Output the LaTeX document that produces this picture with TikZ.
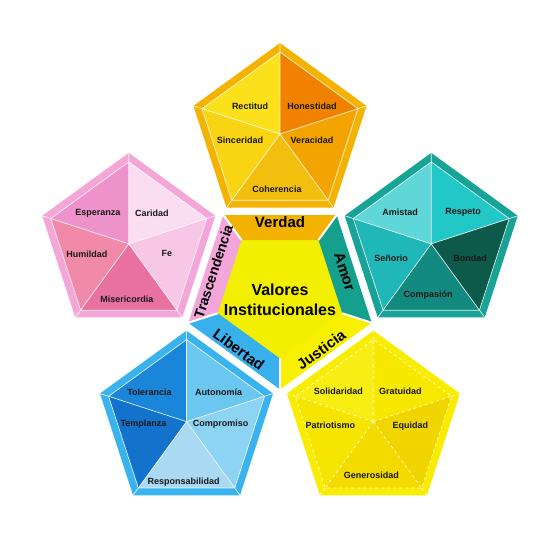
\documentclass[tikz,border=0pt]{standalone}
\usepackage{fontspec}
\setmainfont{Liberation Sans}
\usetikzlibrary{calc,positioning}

\definecolor{verdadfr}{HTML}{F3B300}
\definecolor{rectitudc}{HTML}{FBE01C}
\definecolor{honestc}{HTML}{F08200}
\definecolor{veracc}{HTML}{F4A400}
\definecolor{coherc}{HTML}{F3BF0E}
\definecolor{sincerc}{HTML}{F8D412}
\definecolor{amorfr}{HTML}{17A396}
\definecolor{amistadc}{HTML}{5FD6D8}
\definecolor{respetoc}{HTML}{22C7C8}
\definecolor{bondadc}{HTML}{0D5A4A}
\definecolor{compasc}{HTML}{138A7F}
\definecolor{senorc}{HTML}{20B7B8}
\definecolor{trascfr}{HTML}{F4A6D6}
\definecolor{esperc}{HTML}{EE92CC}
\definecolor{caridc}{HTML}{FBDDF1}
\definecolor{fec}{HTML}{F8C7E6}
\definecolor{misec}{HTML}{E8719F}
\definecolor{humilc}{HTML}{F08AA8}
\definecolor{liberfr}{HTML}{39B3EE}
\definecolor{tolerc}{HTML}{1A86DA}
\definecolor{autonc}{HTML}{6CC7F0}
\definecolor{comproc}{HTML}{8DD3F4}
\definecolor{respc}{HTML}{A9D9F3}
\definecolor{templc}{HTML}{1372CC}
\definecolor{justfr}{HTML}{F8EC00}
\definecolor{solidc}{HTML}{F8EE14}
\definecolor{gratc}{HTML}{F8E800}
\definecolor{equidc}{HTML}{F1D500}
\definecolor{generc}{HTML}{F3DB00}
\definecolor{patric}{HTML}{F6E500}
\definecolor{centrec}{HTML}{F3EF00}
\definecolor{verdadbd}{HTML}{F4B200}
\definecolor{amorbd}{HTML}{15A08E}
\definecolor{justbd}{HTML}{F7F000}
\definecolor{liberbd}{HTML}{38B0EC}
\definecolor{trascbd}{HTML}{F2A6DA}

% value pentagon: #1 centre, #2 frame, then upper left, lower left,
% bottom, lower right, upper right
\newcommand\valpent[7]{%
  \fill[#2] ($(#1)+(90:91)$) -- ($(#1)+(162:91)$) -- ($(#1)+(234:91)$)
    -- ($(#1)+(306:91)$) -- ($(#1)+(18:91)$) -- cycle;
  \foreach \a/\c in {90/#3,162/#4,234/#5,306/#6,18/#7}
    \fill[\c] (#1) -- ($(#1)+(\a:82)$) -- ($(#1)+(\a+72:82)$) -- cycle;
  \foreach \a in {18,90,...,306}
    \draw[rim] (#1) -- ($(#1)+(\a:82)$) -- ($(#1)+(\a+72:82)$)
      ($(#1)+(\a:82)$) -- ($(#1)+(\a:91)$);
}

\begin{document}
\begin{tikzpicture}[
    x=1pt, y=1pt,
    value/.style={inner sep=0pt, text=black!90,
                  font=\bfseries\fontsize{9}{11}\selectfont},
    bandtext/.style={inner sep=0pt, font=\bfseries\fontsize{15}{18}\selectfont},
    centre/.style={inner sep=0pt, align=center,
                   font=\bfseries\fontsize{16}{19.5}\selectfont},
    rim/.style={white, opacity=.85, line width=.7pt},
    gap/.style={white, line width=2pt}
]
\fill[white] (0,0) rectangle (540,550);
\useasboundingbox (0,0) rectangle (540,550);

\coordinate (C) at (280,257);
\coordinate (verdad) at ($(C)+(90:159)$);
\coordinate (amor) at ($(C)+(18:159)$);
\coordinate (justicia) at ($(C)+(-54:159)$);
\coordinate (libertad) at ($(C)+(-126:159)$);
\coordinate (trasc) at ($(C)+(162:159)$);

\valpent{verdad}{verdadfr}{rectitudc}{sincerc}{coherc}{veracc}{honestc}
\valpent{amor}{amorfr}{amistadc}{senorc}{compasc}{bondadc}{respetoc}
\valpent{trasc}{trascfr}{esperc}{humilc}{misec}{fec}{caridc}
\valpent{libertad}{liberfr}{tolerc}{templc}{respc}{comproc}{autonc}
\begin{scope}[rim/.append style={dashed}]
\valpent{justicia}{justfr}{solidc}{patric}{generc}{equidc}{gratc}
\end{scope}

\fill[centrec] ($(C)+(54:66)$) -- ($(C)+(126:66)$) -- ($(C)+(198:66)$)
  -- ($(C)+(270:66)$) -- ($(C)+(342:66)$) -- cycle;
\foreach \a/\c in {54/verdadbd,126/trascbd,198/liberbd,270/justbd,342/amorbd}
  \fill[\c] ($(C)+(\a:96.4)$) -- ($(C)+(\a+72:96.4)$)
    -- ($(C)+(\a+72:65.5)$) -- ($(C)+(\a:65.5)$) -- cycle;
\foreach \a in {54,126,...,342}
  \draw[gap] ($(C)+(\a:65.5)$) -- ($(C)+(\a:97.5)$);

\node[centre] (valores) at (280,250) {Valores\\Institucionales};
\node[bandtext] (verdadlbl) at ($(C)+(90:71)$) {Verdad};
\node[bandtext, rotate=-72] (amorlbl) at ($(C)+(18:68)$) {Amor};
\node[bandtext, rotate=36] (justicialbl) at ($(C)+(-54:70)$) {Justicia};
\node[bandtext, rotate=-36] (libertadlbl) at ($(C)+(-126:70)$) {Libertad};
\node[bandtext, rotate=72, font=\bfseries\fontsize{14}{17}\selectfont]
  (trasclbl) at ($(C)+(162:70)$) {Trascendencia};

\node[value] (rectitud) at ($(verdad)+(-30,28)$) {Rectitud};
\node[value] (honestidad) at ($(verdad)+(32,28)$) {Honestidad};
\node[value] (sinceridad) at ($(verdad)+(-40,-6)$) {Sinceridad};
\node[value] (veracidad) at ($(verdad)+(32,-6)$) {Veracidad};
\node[value] (coherencia) at ($(verdad)+(-3,-55)$) {Coherencia};

\node[value] (esperanza) at ($(trasc)+(-31,31)$) {Esperanza};
\node[value] (caridad) at ($(trasc)+(23,31)$) {Caridad};
\node[value] (humildad) at ($(trasc)+(-42,-10)$) {Humildad};
\node[value] (fe) at ($(trasc)+(38,-10)$) {Fe};
\node[value] (misericordia) at ($(trasc)+(-2,-55)$) {Misericordia};

\node[value] (amistad) at ($(amor)+(-31,32)$) {Amistad};
\node[value] (respeto) at ($(amor)+(32,32)$) {Respeto};
\node[value] (senorio) at ($(amor)+(-40,-14)$) {Señorio};
\node[value] (bondad) at ($(amor)+(39,-14)$) {Bondad};
\node[value] (compasion) at ($(amor)+(-3,-51)$) {Compasión};

\node[value] (tolerancia) at ($(libertad)+(-37,29)$) {Tolerancia};
\node[value] (autonomia) at ($(libertad)+(32,29)$) {Autonomía};
\node[value] (templanza) at ($(libertad)+(-43,-3)$) {Templanza};
\node[value] (compromiso) at ($(libertad)+(34,-3)$) {Compromiso};
\node[value] (responsab) at ($(libertad)+(-3,-61)$) {Responsabilidad};

\node[value] (solidaridad) at ($(justicia)+(-35,30)$) {Solidaridad};
\node[value] (gratuidad) at ($(justicia)+(27,30)$) {Gratuidad};
\node[value] (patriotismo) at ($(justicia)+(-43,-4)$) {Patriotismo};
\node[value] (equidad) at ($(justicia)+(37,-5)$) {Equidad};
\node[value] (generosidad) at ($(justicia)+(-2,-54)$) {Generosidad};
\end{tikzpicture}
\end{document}
